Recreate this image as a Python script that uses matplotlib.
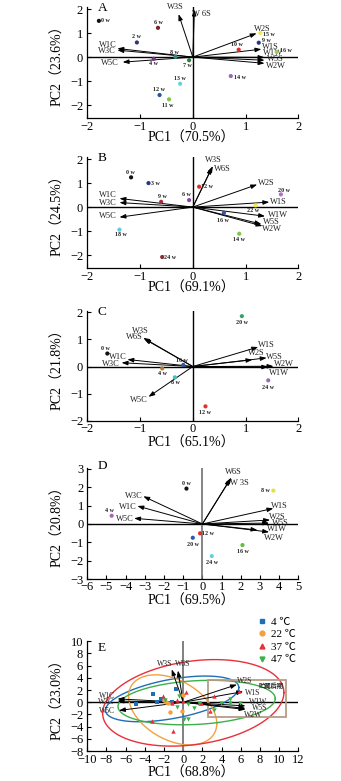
import matplotlib
matplotlib.use('Agg')
import matplotlib.pyplot as plt
import numpy as np
from matplotlib.patches import Rectangle
from matplotlib.lines import Line2D

plt.rcParams['font.family'] = ['Liberation Serif', 'Noto Sans CJK SC', 'DejaVu Sans']
plt.rcParams['axes.unicode_minus'] = True

# ---------------- DATA ----------------
# Panel A
a_samples = ['0 w', '6 w', '2 w', '8 w', '4 w', '7 w', '13 w', '12 w', '11 w', '10 w', '15 w', '9 w', '16 w', '14 w']
a_pc1 = [-1.78, -0.66, -1.06, -0.33, -0.74, -0.07, -0.24, -0.63, -0.45, 0.87, 1.28, 1.25, 1.59, 0.72]
a_pc2 = [1.51, 1.22, 0.61, 0.01, -0.07, -0.13, -1.11, -1.58, -1.76, 0.31, 1.00, 0.60, 0.22, -0.79]
a_sensors = ['W3S', 'W 6S', 'W2S', 'W1S', 'W1W', 'W5S', 'W2W', 'W1C', 'W3C', 'W5C']
a_load1 = [-0.27, 0.03, 1.21, 1.30, 1.36, 1.36, 1.36, -1.43, -1.43, -1.33]
a_load2 = [1.79, 1.98, 0.99, 0.33, -0.01, -0.13, -0.26, 0.36, 0.29, -0.21]
a_var = (70.5, 23.6)

# Panel B
b_samples = ['0 w', '3 w', '12 w', '9 w', '6 w', '20 w', '22 w', '16 w', '14 w', '18 w', '24 w']
b_pc1 = [-1.17, -0.84, 0.12, -0.60, -0.07, 1.67, 1.19, 0.59, 0.88, -1.39, -0.58]
b_pc2 = [1.24, 1.00, 0.85, 0.22, 0.29, 0.53, 0.07, -0.24, -1.11, -0.94, -2.08]
b_sensors = ['W3S', 'W6S', 'W2S', 'W1S', 'W1W', 'W5S', 'W2W', 'W1C', 'W3C', 'W5C']
b_load1 = [0.38, 0.36, 1.22, 1.45, 1.37, 1.30, 1.32, -1.39, -1.39, -1.39]
b_load2 = [1.71, 1.64, 0.94, 0.21, -0.38, -0.71, -0.79, 0.36, 0.19, -0.42]
b_var = (69.1, 24.5)

# Panel C
c_samples = ['20 w', '0 w', '16 w', '4 w', '8 w', '24 w', '12 w']
c_pc1 = [0.93, -1.62, -0.18, -0.58, -0.34, 1.43, 0.24]
c_pc2 = [1.86, 0.48, 0.06, -0.07, -0.40, -0.51, -1.47]
c_sensors = ['W3S', 'W6S', 'W1C', 'W3C', 'W5C', 'W1S', 'W2S', 'W5S', 'W2W', 'W1W']
c_load1 = [-0.94, -0.92, -1.24, -1.35, -0.84, 1.24, 1.13, 1.40, 1.53, 1.43]
c_load2 = [1.06, 1.02, 0.26, 0.14, -1.12, 0.72, 0.25, 0.32, 0.01, -0.02]
c_var = (65.1, 21.8)

# Panel D
d_samples = ['0 w', '8 w', '4 w', '12 w', '20 w', '16 w', '24 w']
d_pc1 = [-0.83, 3.70, -4.73, -0.12, -0.50, 2.09, 0.49]
d_pc2 = [1.93, 1.82, 0.45, -0.51, -0.75, -1.15, -1.75]
d_sensors = ['W6S', 'W 3S', 'W3C', 'W1C', 'W5C', 'W1S', 'W2S', 'W5S', 'W1W', 'W2W']
d_load1 = [1.51, 1.45, -3.08, -3.39, -3.56, 3.70, 3.53, 3.48, 2.87, 3.48]
d_load2 = [2.53, 2.45, 1.51, 0.98, 0.31, 0.85, 0.22, 0.05, -0.33, -0.44]
d_var = (69.5, 20.8)

# Panel E
e_groups = ['4 ℃', '22 ℃', '37 ℃', '47 ℃']
e4_pc1 = [-4.9, -3.2, -0.7, -2.7, -2.3, -1.2, -2.0]
e4_pc2 = [-0.3, 1.4, 2.1, 0.1, 0.5, 0.1, 0.3]
e22_pc1 = [-2.05, -1.6, -1.35, -0.1, -1.8, 0.0]
e22_pc2 = [0.3, -0.05, -1.6, -1.4, 0.0, 1.2]
e37_pc1 = [-2.1, 0.25, -0.05, -1.2, -1.1, -3.3, 1.8, 3.2, 5.8, 2.75, 1.85, -0.6]
e37_pc2 = [0.95, 1.65, 0.2, -0.05, -4.7, -3.1, -0.2, 0.95, 1.9, -1.5, -0.05, 0.3]
e47_pc1 = [-0.4, 0.45, 0.05, 0.5, 1.1, -0.65, 3.9, 3.2, 4.85, 4.9, 5.9, 1.6, -1.9]
e47_pc2 = [1.1, -0.3, -2.7, -2.7, -1.0, -0.7, -0.05, -1.35, 0.6, -0.05, -0.1, -0.2, 0.3]
e_sensors = ['W3S', 'W6S', 'W2S', 'W1S', 'W1W', 'W5S', 'W2W', 'W1C', 'W3C', 'W5C']
e_load1 = [-1.2, -0.55, 5.6, 6.25, 6.5, 6.5, 6.5, -6.85, -6.85, -6.7]
e_load2 = [5.4, 5.2, 2.9, 1.75, -0.6, -1.0, -1.2, 0.55, 0.2, -1.35]
# confidence ellipses: centre x, centre y, half-range x, half-range y, phase
e_ell_cx = [-1.15, -1.1, 1.05, 1.4]
e_ell_cy = [0.55, -1.25, -0.1, -0.05]
e_ell_rx = [6.95, 4.6, 9.45, 8.2]
e_ell_ry = [3.75, 5.75, 7.1, 3.65]
e_ell_ph = [0.52, -0.40, 0.24, 0.18]
e_box = (2.56, -2.35, 10.75, 3.7)
e_box_text = '贮藏后期'
e_var = (68.8, 23.0)

# ---------------- STYLE ----------------
a_colors = ['#111111', '#7a1f2b', '#2f3575', '#2b8c8c', '#7b2d8b', '#2e7d3e', '#66d0e0',
            '#2b4ea8', '#7cc84a', '#e52a2a', '#f2e84a', '#283580', '#9ccf5a', '#9a66b8']
b_colors = ['#111111', '#283580', '#e52a2a', '#a03040', '#8a45a8', '#b070c8', '#f2e84a',
            '#3055a8', '#7cc84a', '#66c8e0', '#8a2a30']
c_colors = ['#3aa070', '#111111', '#3055a8', '#b08030', '#40c0c0', '#9070b8', '#e53030']
d_colors = ['#111111', '#e8e040', '#b060b8', '#e52a2a', '#3055b0', '#60c040', '#66d0e0']
e_colors = ['#1f6fb5', '#f4a040', '#e8303a', '#3cb04a']
e_markers = ['s', 'o', '^', 'v']

a_pt_off = [(5, 0.2), (0.5, 3.6), (0, 4.1), (-0.5, 3.4), (-0.5, -3.4), (-1.4, -3.8), (-0.2, 4.1),
            (-0.5, 4.1), (-0.7, -4.3), (-1.2, 3.6), (6, -1.2), (5.3, 1.4), (6.7, 1.0), (6.7, -0.7)]
a_ar_off = [(-2.4, 4.8), (5.3, -3.1), (4.3, 2.9), (6.5, 1.7), (6, 3.1), (7.9, 0.7), (7.9, -2.2),
            (-6.5, 2.6), (-7.7, -0.7), (-9.1, -0.7)]
b_pt_off = [(-0.2, 3.8), (5.3, -0.2), (5.5, -0.2), (1, 3.6), (-2.2, 3.8), (2.2, 3.1), (-1.7, -3.4),
            (-1, -5.3), (0, -4.1), (1, -3.8), (6, -0.2)]
b_ar_off = [(0.5, 4.3), (7.7, -0.7), (6.7, 1.4), (6.5, 0.2), (9.1, 0.7), (7.2, 1.7), (6.5, -1.9),
            (-8.6, 2.6), (-8.6, -0.2), (-8.4, 0.5)]
c_pt_off = [(0, -4.8), (-1.4, 3.6), (-1.2, 3.1), (0, -3.6), (0.5, -3.4), (0, -4.8), (0, -4.3)]
c_ar_off = [(-1.9, 4.8), (-7.2, 1.2), (-7.2, 1.7), (-7.7, -0.7), (-7.2, -2.6), (6, 1.7), (3.1, 4.6),
            (5.3, 0.5), (7.7, 1.9), (7.9, -4.1)]
d_pt_off = [(0, 3.8), (-6, -0.2), (-1.2, 4.1), (5.8, 0), (0.2, -4.6), (0, -4.8), (0, -4.3)]
d_ar_off = [(1.2, 3.8), (6.7, -2.9), (-6.7, 0.5), (-7.2, -0.5), (-6.5, -0.7), (4, 1.5), (5.3, 2.4),
            (7.9, 0), (14.4, 0.7), (3.1, -4.6)]
e_ar_off = [(-4.8, 3.6), (3.6, 4.8), (5.5, 2.4), (7, -1.2), (8.9, 3.1), (10.3, 0), (5.3, -3.6),
            (-7.2, 2.2), (-8.2, -0.5), (-8.9, -0.2)]

W, H = 341, 781
fig = plt.figure(figsize=(W / 100, H / 100), dpi=100)

X0, X1 = 87.3, 298.3


def make_ax(top_px, bot_px):
    return fig.add_axes([X0 / W, 1 - bot_px / H, (X1 - X0) / W, (bot_px - top_px) / H])


def style_ax(ax, xlim, ylim, xticks, yticks, pad=3):
    ax.set_xlim(*xlim)
    ax.set_ylim(*ylim)
    ax.set_xticks(xticks)
    ax.set_yticks(yticks)
    for s in ['top', 'right']:
        ax.spines[s].set_visible(False)
    for s in ['left', 'bottom']:
        ax.spines[s].set_linewidth(0.9)
    ax.tick_params(direction='in', length=3, width=0.8, labelsize=9, pad=pad)
    ax.tick_params(axis='x', pad=pad - 1)
    ax.patch.set_alpha(0)


def arrows(ax, l1, l2, names, offs, fs=6):
    for x, y, n, o in zip(l1, l2, names, offs):
        ax.annotate('', xy=(x, y), xytext=(0, 0),
                    arrowprops=dict(arrowstyle='-|>,head_length=0.45,head_width=0.16',
                                    lw=0.7, color='black', shrinkA=0, shrinkB=0,
                                    mutation_scale=8))
        ax.annotate(n, xy=(x, y), xytext=o, textcoords='offset points',
                    ha='center', va='center', fontsize=fs, color='#222222')


def points(ax, p1, p2, cols, names, offs):
    ax.scatter(p1, p2, c=cols, s=9, zorder=4, linewidths=0)
    for x, y, n, o in zip(p1, p2, names, offs):
        ax.annotate(n, xy=(x, y), xytext=o, textcoords='offset points',
                    ha='center', va='center', fontsize=4.3, fontweight='bold', color='#222222')


def labels(ax, var, xlab_y, letter, letter_y):
    cx = (X0 + X1) / 2 / W
    fig.text(cx - 0.005, 1 - xlab_y / H, 'PC1（%.1f%%）' % var[0], ha='center', va='center',
             fontsize=10)
    bb = ax.get_position()
    fig.text(58 / W, (bb.y0 + bb.y1) / 2, 'PC2（%.1f%%）' % var[1], ha='center', va='center',
             fontsize=10, rotation=90)
    ax.text(0.05, letter_y, letter, transform=ax.transAxes, ha='left', va='top', fontsize=9.5)


# Panel A
axA = make_ax(6.7, 118.3)
style_ax(axA, (-2, 2), (-2.55, 2.1), [-2, -1, 0, 1, 2], [-2, -1, 0, 1, 2])
axA.axhline(0, color='black', lw=1.0)
axA.axvline(0, color='black', lw=1.0)
arrows(axA, a_load1, a_load2, a_sensors, a_ar_off)
points(axA, a_pc1, a_pc2, a_colors, a_samples, a_pt_off)
labels(axA, a_var, 138.3, 'A', 1.045)

# Panel B
axB = make_ax(156.7, 268.3)
style_ax(axB, (-2, 2), (-2.55, 2.1), [-2, -1, 0, 1, 2], [-2, -1, 0, 1, 2])
axB.axhline(0, color='black', lw=1.0)
axB.axvline(0, color='black', lw=1.0)
arrows(axB, b_load1, b_load2, b_sensors, b_ar_off)
points(axB, b_pc1, b_pc2, b_colors, b_samples, b_pt_off)
labels(axB, b_var, 288.3, 'B', 1.045)

# Panel C
axC = make_ax(311.0, 420.7)
style_ax(axC, (-2, 2), (-2, 2.05), [-2, -1, 0, 1, 2], [-2, -1, 0, 1, 2])
axC.axhline(0, color='black', lw=1.0)
axC.axvline(0, color='black', lw=1.0)
arrows(axC, c_load1, c_load2, c_sensors, c_ar_off)
points(axC, c_pc1, c_pc2, c_colors, c_samples, c_pt_off)
labels(axC, c_var, 443.3, 'C', 1.05)

# Panel D
axD = make_ax(467.5, 579.0)
style_ax(axD, (-6, 5), (-3, 3.08), list(range(-6, 6)), list(range(-3, 4)), pad=2.5)
axD.axhline(0, color='black', lw=1.0)
axD.axvline(0, color='#707070', lw=1.2)
arrows(axD, d_load1, d_load2, d_sensors, d_ar_off)
points(axD, d_pc1, d_pc2, d_colors, d_samples, d_pt_off)
labels(axD, d_var, 601.5, 'D', 1.07)

# Panel E
axE = make_ax(641.0, 751.0)
style_ax(axE, (-10, 12), (-8, 10.05), list(range(-10, 13, 2)), list(range(-8, 11, 2)))
axE.axhline(0, color='black', lw=1.0)
axE.axvline(0, color='#808080', lw=1.4)
t = np.linspace(0, 2 * np.pi, 300)
for cx, cy, rx, ry, ph, col in zip(e_ell_cx, e_ell_cy, e_ell_rx, e_ell_ry, e_ell_ph, e_colors):
    axE.plot(cx + rx * np.cos(t), cy + ry * np.sin(t + ph), color=col, lw=1.0, zorder=2)
bx0, by0, bx1, by1 = e_box
axE.add_patch(Rectangle((bx0, by0), bx1 - bx0, by1 - by0, fill=False, edgecolor='#b89c88', lw=1.3,
                        zorder=3))
axE.text(bx1 - 0.3, by1 - 0.35, e_box_text, ha='right', va='top', fontsize=4.5, fontweight='bold',
         family=['Noto Sans CJK SC'], color='#222222')
arrows(axE, e_load1, e_load2, e_sensors, e_ar_off, fs=5.5)
for p1, p2, col, mk in zip([e4_pc1, e22_pc1, e37_pc1, e47_pc1], [e4_pc2, e22_pc2, e37_pc2, e47_pc2],
                           e_colors, e_markers):
    axE.scatter(p1, p2, c=col, marker=mk, s=10, zorder=5, linewidths=0)
labels(axE, e_var, 773.3, 'E', 0.99)

handles = [Line2D([], [], ls='none', marker=m, color=c, markersize=3.5) for m, c in zip(e_markers, e_colors)]
fig.legend(handles, e_groups, loc='upper left', bbox_to_anchor=(258 / W, 1 - 617 / H), frameon=False,
           fontsize=8, handlelength=0.8, handletextpad=0.4, borderpad=0, labelspacing=0.25,
           borderaxespad=0)

fig.savefig('out.png', dpi=100)
